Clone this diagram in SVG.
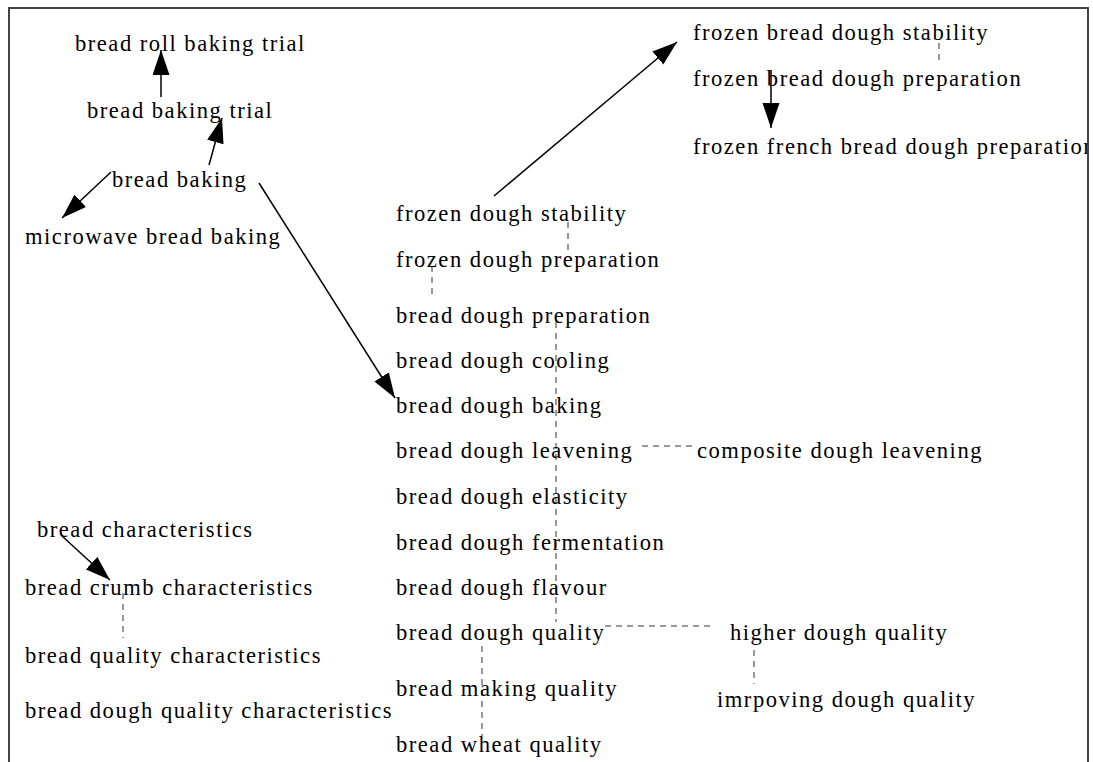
<svg xmlns="http://www.w3.org/2000/svg" width="1093" height="762" viewBox="0 0 1093 762">
<style>
text{font-family:"Liberation Serif","Times New Roman",serif;font-size:22.6px;letter-spacing:1.5px;fill:#000}
.arr{stroke:#000;stroke-width:1.5;fill:none;marker-end:url(#ah)}
.dash{stroke:#333;stroke-width:1;fill:none;stroke-dasharray:6,5}
</style>
<defs>
<marker id="ah" markerUnits="userSpaceOnUse" markerWidth="26" markerHeight="18" refX="25" refY="8.5" orient="auto"><path d="M0,0 L25,8.5 L0,17 z" fill="#000"/></marker>
<clipPath id="frame"><rect x="9" y="9" width="1078" height="760"/></clipPath>
</defs>
<rect x="0" y="0" width="1093" height="762" fill="#fff"/>
<path d="M9,770 V8 H1088 V770" fill="none" stroke="#444" stroke-width="2"/>
<g clip-path="url(#frame)">
<g id="connectors">
<line class="arr" x1="161" y1="97" x2="161" y2="50"/>
<line class="arr" x1="209" y1="165" x2="222" y2="118"/>
<line class="arr" x1="111" y1="172" x2="62" y2="218"/>
<line class="arr" x1="259" y1="183" x2="395" y2="398"/>
<line class="arr" x1="494" y1="196" x2="677" y2="42"/>
<line class="arr" x1="771" y1="70" x2="771" y2="128"/>
<line class="arr" x1="62" y1="536" x2="110" y2="580"/>
<line class="dash" x1="939" y1="43" x2="939" y2="60"/>
<line class="dash" x1="568" y1="222" x2="568" y2="254"/>
<line class="dash" x1="432" y1="266" x2="432" y2="298"/>
<line class="dash" x1="556" y1="322" x2="556" y2="622"/>
<line class="dash" x1="642" y1="446" x2="694" y2="446"/>
<line class="dash" x1="605" y1="626" x2="713" y2="626"/>
<line class="dash" x1="482" y1="646" x2="482" y2="736"/>
<line class="dash" x1="754" y1="650" x2="754" y2="684"/>
<line class="dash" x1="123" y1="593" x2="123" y2="638"/>
</g>
<g id="n-bread-roll-baking-trial"><text x="75" y="51">bread roll baking trial</text></g>
<g id="n-bread-baking-trial"><text x="87" y="118">bread baking trial</text></g>
<g id="n-bread-baking"><text x="112" y="187">bread baking</text></g>
<g id="n-microwave-bread-baking"><text x="25" y="244">microwave bread baking</text></g>
<g id="n-frozen-bread-dough-stability"><text x="693" y="40">frozen bread dough stability</text></g>
<g id="n-frozen-bread-dough-preparation"><text x="693" y="86">frozen bread dough preparation</text></g>
<g id="n-frozen-french-bread-dough-preparation"><text x="693" y="154">frozen french bread dough preparation</text></g>
<g id="n-frozen-dough-stability"><text x="396" y="221">frozen dough stability</text></g>
<g id="n-frozen-dough-preparation"><text x="396" y="267">frozen dough preparation</text></g>
<g id="n-bread-dough-preparation"><text x="396" y="323">bread dough preparation</text></g>
<g id="n-bread-dough-cooling"><text x="396" y="368">bread dough cooling</text></g>
<g id="n-bread-dough-baking"><text x="396" y="413">bread dough baking</text></g>
<g id="n-bread-dough-leavening"><text x="396" y="458">bread dough leavening</text></g>
<g id="n-composite-dough-leavening"><text x="697" y="458">composite dough leavening</text></g>
<g id="n-bread-dough-elasticity"><text x="396" y="504">bread dough elasticity</text></g>
<g id="n-bread-dough-fermentation"><text x="396" y="550">bread dough fermentation</text></g>
<g id="n-bread-dough-flavour"><text x="396" y="595">bread dough flavour</text></g>
<g id="n-bread-dough-quality"><text x="396" y="640">bread dough quality</text></g>
<g id="n-higher-dough-quality"><text x="730" y="640">higher dough quality</text></g>
<g id="n-imrpoving-dough-quality"><text x="717" y="707">imrpoving dough quality</text></g>
<g id="n-bread-making-quality"><text x="396" y="696">bread making quality</text></g>
<g id="n-bread-wheat-quality"><text x="396" y="752">bread wheat quality</text></g>
<g id="n-bread-characteristics"><text x="37" y="537">bread characteristics</text></g>
<g id="n-bread-crumb-characteristics"><text x="25" y="595">bread crumb characteristics</text></g>
<g id="n-bread-quality-characteristics"><text x="25" y="663">bread quality characteristics</text></g>
<g id="n-bread-dough-quality-characteristics"><text x="25" y="718">bread dough quality characteristics</text></g>
</g>
</svg>
